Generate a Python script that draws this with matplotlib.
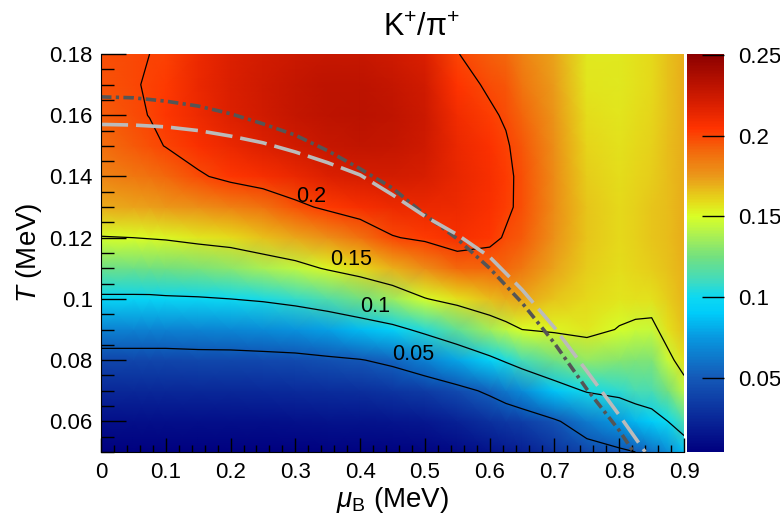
import numpy as np
import matplotlib.pyplot as plt
from matplotlib.colors import LinearSegmentedColormap, Normalize
from matplotlib.ticker import MultipleLocator, FormatStrFormatter

plt.rcParams['font.family'] = ['Liberation Sans', 'DejaVu Sans']
plt.rcParams['mathtext.fontset'] = 'custom'
plt.rcParams['mathtext.rm'] = 'Liberation Sans'
plt.rcParams['mathtext.it'] = 'Liberation Sans:italic'

# grid (bin centres)
mu_B = [0.0, 0.05, 0.075, 0.1, 0.15, 0.2, 0.25, 0.3, 0.35, 0.4, 0.45,
        0.5, 0.55, 0.6, 0.625, 0.65, 0.7, 0.75, 0.8, 0.825, 0.85, 0.875, 0.9]
T = [0.05, 0.06, 0.07, 0.08, 0.09, 0.10, 0.11, 0.12, 0.13, 0.14,
     0.15, 0.16, 0.17, 0.18]

# K+/pi+ ratio, one list per mu_B column, going up in T
ratio_by_mu = [
    [0.004, 0.012, 0.025, 0.040, 0.066, 0.096, 0.123, 0.149, 0.170, 0.182, 0.189, 0.193, 0.196, 0.197],
    [0.004, 0.012, 0.025, 0.040, 0.066, 0.096, 0.123, 0.150, 0.172, 0.186, 0.194, 0.198, 0.199, 0.199],
    [0.004, 0.012, 0.025, 0.040, 0.066, 0.096, 0.124, 0.151, 0.1735, 0.188, 0.197, 0.2003, 0.2012, 0.2000],
    [0.004, 0.012, 0.025, 0.040, 0.066, 0.097, 0.125, 0.152, 0.175, 0.190, 0.2005, 0.2035, 0.203, 0.2015],
    [0.004, 0.012, 0.025, 0.041, 0.067, 0.098, 0.127, 0.156, 0.178, 0.198, 0.207, 0.212, 0.213, 0.212],
    [0.004, 0.012, 0.025, 0.041, 0.068, 0.100, 0.131, 0.159, 0.183, 0.204, 0.213, 0.218, 0.219, 0.218],
    [0.004, 0.012, 0.026, 0.042, 0.070, 0.103, 0.137, 0.165, 0.188, 0.208, 0.218, 0.223, 0.224, 0.222],
    [0.004, 0.013, 0.027, 0.043, 0.073, 0.108, 0.143, 0.171, 0.196, 0.213, 0.223, 0.228, 0.228, 0.225],
    [0.005, 0.014, 0.028, 0.046, 0.078, 0.115, 0.152, 0.178, 0.203, 0.218, 0.227, 0.231, 0.231, 0.227],
    [0.005, 0.014, 0.029, 0.049, 0.085, 0.124, 0.160, 0.188, 0.208, 0.221, 0.229, 0.232, 0.231, 0.227],
    [0.005, 0.015, 0.031, 0.055, 0.093, 0.135, 0.169, 0.199, 0.212, 0.222, 0.228, 0.230, 0.228, 0.224],
    [0.006, 0.017, 0.035, 0.066, 0.106, 0.149, 0.179, 0.203, 0.213, 0.220, 0.224, 0.225, 0.223, 0.219],
    [0.009, 0.022, 0.043, 0.079, 0.120, 0.158, 0.190, 0.208, 0.212, 0.214, 0.213, 0.210, 0.205, 0.2005],
    [0.014, 0.030, 0.054, 0.094, 0.136, 0.166, 0.191, 0.204, 0.207, 0.208, 0.206, 0.202, 0.198, 0.193],
    [0.017, 0.033, 0.062, 0.103, 0.143, 0.170, 0.190, 0.1985, 0.2025, 0.2028, 0.2015, 0.1985, 0.195, 0.190],
    [0.020, 0.036, 0.070, 0.112, 0.150, 0.172, 0.186, 0.194, 0.197, 0.197, 0.195, 0.191, 0.187, 0.183],
    [0.030, 0.047, 0.088, 0.124, 0.153, 0.164, 0.172, 0.177, 0.179, 0.179, 0.178, 0.176, 0.174, 0.172],
    [0.040, 0.063, 0.102, 0.133, 0.156, 0.160, 0.163, 0.164, 0.164, 0.163, 0.161, 0.159, 0.157, 0.156],
    [0.046, 0.076, 0.107, 0.130, 0.149, 0.157, 0.159, 0.160, 0.160, 0.159, 0.158, 0.157, 0.156, 0.156],
    [0.050, 0.084, 0.112, 0.128, 0.146, 0.158, 0.161, 0.162, 0.162, 0.161, 0.160, 0.159, 0.158, 0.158],
    [0.058, 0.091, 0.113, 0.128, 0.145, 0.158, 0.163, 0.164, 0.164, 0.163, 0.162, 0.161, 0.160, 0.160],
    [0.070, 0.100, 0.125, 0.145, 0.158, 0.163, 0.165, 0.166, 0.166, 0.166, 0.166, 0.165, 0.165, 0.165],
    [0.085, 0.113, 0.142, 0.158, 0.165, 0.168, 0.169, 0.170, 0.170, 0.170, 0.170, 0.170, 0.170, 0.170],
]
contour_levels = [0.05, 0.1, 0.15, 0.2]

# freeze-out curves (dash-dot dark, dashed light)
fo1_mu = [0.0, 0.05, 0.1, 0.15, 0.2, 0.25, 0.3, 0.35, 0.4, 0.45, 0.5, 0.55,
          0.6, 0.65, 0.7, 0.75, 0.8, 0.822]
fo1_T = [0.166, 0.1657, 0.1646, 0.1630, 0.1605, 0.1572, 0.1535, 0.1484, 0.1425, 0.1362,
         0.1275, 0.1196, 0.110, 0.0987, 0.0855, 0.0705, 0.057, 0.050]
fo2_mu = [0.0, 0.05, 0.1, 0.15, 0.2, 0.25, 0.3, 0.35, 0.4, 0.45, 0.5, 0.55,
          0.6, 0.65, 0.7, 0.75, 0.8, 0.84]
fo2_T = [0.157, 0.1568, 0.1562, 0.155, 0.1532, 0.151, 0.148, 0.1445, 0.1405, 0.134,
         0.127, 0.121, 0.1137, 0.103, 0.0906, 0.0764, 0.062, 0.050]

Z = np.array(ratio_by_mu).T

cmap = LinearSegmentedColormap.from_list('k2pi', [
    (0.000, (0.00, 0.00, 0.50)),
    (0.186, (0.08, 0.35, 0.72)),
    (0.288, (0.03, 0.60, 0.88)),
    (0.349, (0.00, 0.80, 0.98)),
    (0.389, (0.05, 0.85, 0.95)),
    (0.430, (0.25, 0.86, 0.75)),
    (0.490, (0.45, 0.88, 0.50)),
    (0.551, (0.70, 0.95, 0.30)),
    (0.592, (0.85, 1.00, 0.15)),
    (0.632, (0.90, 0.85, 0.10)),
    (0.693, (0.92, 0.60, 0.10)),
    (0.754, (0.95, 0.42, 0.05)),
    (0.815, (1.00, 0.20, 0.00)),
    (0.876, (0.85, 0.12, 0.00)),
    (1.000, (0.55, 0.00, 0.00)),
])
norm = Normalize(vmin=0.004, vmax=0.2507)

fig = plt.figure(figsize=(7.8, 5.23), dpi=100)
ax = fig.add_axes([0.1295, 0.1358, 0.7475, 0.7609])
mesh = ax.pcolormesh(mu_B, T, Z, cmap=cmap, norm=norm, shading='gouraud', rasterized=True)
ax.contour(mu_B, T, Z, levels=contour_levels, colors='black', linewidths=0.9)

# contour labels, ROOT style (sitting above the lines)
for txt, x, y in [('0.2', 0.324, 0.1334), ('0.15', 0.386, 0.1128),
                  ('0.1', 0.423, 0.0976), ('0.05', 0.482, 0.082)]:
    ax.text(x, y, txt, fontsize=15.5, ha='center', va='center')

l1, = ax.plot(fo1_mu, fo1_T, color='#555555', lw=2.6)
l1.set_dashes([2.9, 1.2, 0.9, 1.2])
l2, = ax.plot(fo2_mu, fo2_T, color='#bbbbbb', lw=2.6)
l2.set_dashes([7.5, 2.2])

ax.set_xlim(0, 0.9)
ax.set_ylim(0.05, 0.18)
ax.xaxis.set_major_locator(MultipleLocator(0.1))
ax.xaxis.set_minor_locator(MultipleLocator(0.02))
ax.yaxis.set_major_locator(MultipleLocator(0.02))
ax.yaxis.set_minor_locator(MultipleLocator(0.005))
ax.xaxis.set_major_formatter(FormatStrFormatter('%g'))
ax.yaxis.set_major_formatter(FormatStrFormatter('%g'))
ax.tick_params(axis='both', which='both', direction='in', labelsize=16, width=1)
ax.tick_params(axis='x', which='major', length=10, pad=7)
ax.tick_params(axis='x', which='minor', length=5)
ax.tick_params(axis='y', which='major', length=18, pad=6)
ax.tick_params(axis='y', which='minor', length=9)
for s in ['top', 'right']:
    ax.spines[s].set_visible(False)

ax.set_xlabel(r'$\mu_{\mathrm{B}}$ (MeV)', fontsize=20, labelpad=2)
ax.set_ylabel(r'$T$ (MeV)', fontsize=20, labelpad=4)
fig.text(0.541, 0.946, r'K$^{+}$/π$^{+}$', fontsize=22, ha='center', va='center')

cax = fig.add_axes([0.8808, 0.1358, 0.0474, 0.7609])
cb = fig.colorbar(mesh, cax=cax)
cb.set_ticks([0.05, 0.1, 0.15, 0.2, 0.25])
cb.ax.yaxis.set_major_formatter(FormatStrFormatter('%g'))
cb.outline.set_visible(False)
cax.tick_params(direction='in', length=16, width=1, labelsize=16, pad=10)

fig.savefig('out.png', dpi=100)
